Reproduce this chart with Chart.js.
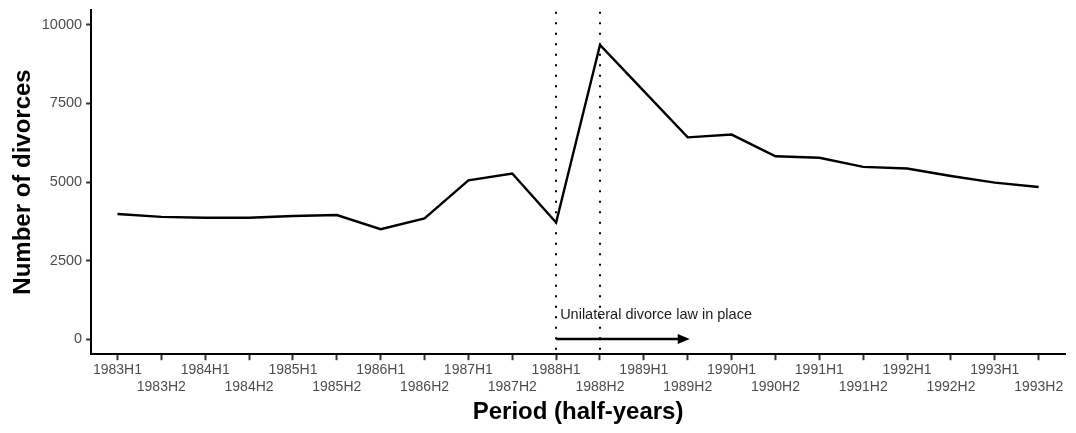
<!DOCTYPE html>
<html>
<head>
<meta charset="utf-8">
<script src="https://cdn.jsdelivr.net/npm/chart.js@4"></script>
<style>
  html, body { margin: 0; padding: 0; background: #fff; }
  #wrap { width: 1076px; height: 433px; position: relative; }
</style>
</head>
<body>
<div id="wrap"><canvas id="chart"></canvas></div>
<script>
const periods = [
  "1983H1", "1983H2", "1984H1", "1984H2", "1985H1", "1985H2",
  "1986H1", "1986H2", "1987H1", "1987H2", "1988H1", "1988H2",
  "1989H1", "1989H2", "1990H1", "1990H2", "1991H1", "1991H2",
  "1992H1", "1992H2", "1993H1", "1993H2"
];
const divorces = [
  3980, 3890, 3860, 3860, 3920, 3950,
  3500, 3840, 5050, 5270, 3710, 9360,
  7890, 6420, 6510, 5820, 5770, 5480,
  5430, 5190, 4980, 4840
];
const yTicks = [0, 2500, 5000, 7500, 10000];
const lawStart = "1988H1";
const lawEnd = "1988H2";
const arrowEnd = "1989H2";
const noteText = "Unilateral divorce law in place";

const FONT = "'Liberation Sans', Arial, sans-serif";

const lawMarks = {
  id: "lawMarks",
  afterDatasetsDraw(chart) {
    const { ctx, chartArea, scales: { x, y } } = chart;
    ctx.save();
    // dotted reference lines
    ctx.strokeStyle = "#000";
    ctx.lineWidth = 2;
    ctx.setLineDash([2, 8.5]);
    [lawStart, lawEnd].forEach(p => {
      const px = Math.round(x.getPixelForValue(periods.indexOf(p)));
      ctx.beginPath();
      ctx.moveTo(px, chartArea.top + 2);
      ctx.lineTo(px, chartArea.bottom);
      ctx.stroke();
    });
    ctx.setLineDash([]);

    // arrow
    const x0 = x.getPixelForValue(periods.indexOf(lawStart));
    const x1 = x.getPixelForValue(periods.indexOf(arrowEnd));
    const y0 = y.getPixelForValue(0);
    ctx.lineWidth = 2.5;
    ctx.beginPath();
    ctx.moveTo(x0, y0);
    ctx.lineTo(x1 - 8, y0);
    ctx.stroke();
    ctx.fillStyle = "#000";
    ctx.beginPath();
    ctx.moveTo(x1 + 2, y0);
    ctx.lineTo(x1 - 10, y0 - 5);
    ctx.lineTo(x1 - 10, y0 + 5);
    ctx.closePath();
    ctx.fill();

    // note
    ctx.font = "14.5px " + FONT;
    ctx.fillStyle = "#1a1a1a";
    ctx.textAlign = "left";
    ctx.textBaseline = "middle";
    ctx.fillText(noteText, x0 + 4, y.getPixelForValue(760));
    ctx.restore();
  }
};

new Chart(document.getElementById("chart"), {
  type: "line",
  data: {
    datasets: [{
      label: "Number of divorces",
      data: divorces.map((v, i) => ({ x: i, y: v })),
      borderColor: "#000",
      borderWidth: 2.4,
      pointRadius: 0,
      tension: 0,
      fill: false
    }]
  },
  options: {
    responsive: true,
    maintainAspectRatio: false,
    animation: false,
    layout: { padding: { left: 9, right: 11, top: 1, bottom: 6 } },
    plugins: {
      legend: { display: false },
      tooltip: { enabled: false }
    },
    scales: {
      x: {
        type: "linear",
        min: -0.6,
        max: periods.length - 1 + 0.6,
        afterBuildTicks: axis => { axis.ticks = periods.map((p, i) => ({ value: i })); },
        border: { display: true, color: "#000", width: 2 },
        grid: { drawOnChartArea: false, drawTicks: true, tickLength: 6, tickWidth: 2, color: "#333" },
        ticks: {
          autoSkip: false,
          maxRotation: 0,
          color: "#4d4d4d",
          padding: 1,
          font: { family: FONT, size: 14, lineHeight: 1.25 },
          callback: v => (v % 2 === 0 ? [periods[v]] : ["", periods[v]])
        },
        title: {
          display: true,
          text: "Period (half-years)",
          color: "#000",
          font: { family: FONT, size: 24, weight: "bold" },
          padding: { top: 1, bottom: 0 }
        }
      },
      y: {
        type: "linear",
        min: -480,
        max: 10480,
        afterBuildTicks: axis => { axis.ticks = yTicks.map(v => ({ value: v })); },
        border: { display: true, color: "#000", width: 2 },
        grid: { drawOnChartArea: false, drawTicks: true, tickLength: 5, tickWidth: 2, color: "#333" },
        ticks: {
          color: "#4d4d4d",
          padding: 4,
          font: { family: FONT, size: 14.5, lineHeight: 0.8 },
          callback: v => String(v)
        },
        title: {
          display: true,
          text: "Number of divorces",
          color: "#000",
          font: { family: FONT, size: 24, weight: "bold" },
          padding: { top: 0, bottom: 0 }
        }
      }
    }
  },
  plugins: [lawMarks]
});
</script>
</body>
</html>
